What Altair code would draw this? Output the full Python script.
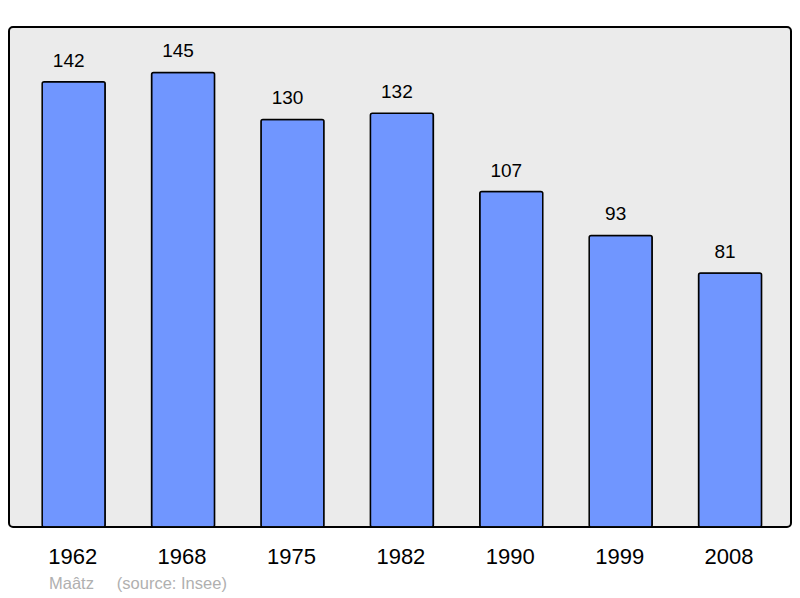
import altair as alt
import pandas as pd

years = ["1962", "1968", "1975", "1982", "1990", "1999", "2008"]
population = [142, 145, 130, 132, 107, 93, 81]

df = pd.DataFrame({"year": years, "pop": population})

FONT = "Liberation Sans"

x = alt.X("year:N", sort=years, title=None,
          scale=alt.Scale(paddingInner=0.424, paddingOuter=0.286, align=0.53),
          axis=alt.Axis(labelAngle=0, labelFontSize=22, labelFont=FONT,
                        labelColor="black", ticks=False, domain=False,
                        labelPadding=19, labelOffset=-1, grid=False))
y = alt.Y("pop:Q", title=None,
          scale=alt.Scale(domain=[0, 159.5], nice=False, zero=True),
          axis=None)

bars = alt.Chart(df).mark_bar(
    color="#7096ff", stroke="black", strokeWidth=1.5, cornerRadius=2
).encode(x=x, y=y)

labels = alt.Chart(df).mark_text(
    fontSize=19, font=FONT, color="black", baseline="alphabetic",
    dy=-15, dx=-5
).encode(x=x, y=y, text="pop:Q")

chart = alt.layer(bars, labels).properties(
    width=782, height=500,
    autosize=alt.AutoSizeParams(type="none"),
    padding={"left": 1, "top": 19, "right": 1, "bottom": 70},
    title=alt.TitleParams(
        text="Maâtz\u00a0\u00a0\u00a0\u00a0\u00a0(source: Insee)",
        orient="bottom", anchor="start", fontSize=16.5, font=FONT,
        fontWeight="normal", color="#b0b0b0", dx=40, offset=9,
    ),
).configure(
    background="white",
    view=alt.ViewConfig(fill="#ebebeb", stroke="black", strokeWidth=2,
                        cornerRadius=4),
)

chart.save("out.html", embed_options={"renderer": "svg", "actions": False})
